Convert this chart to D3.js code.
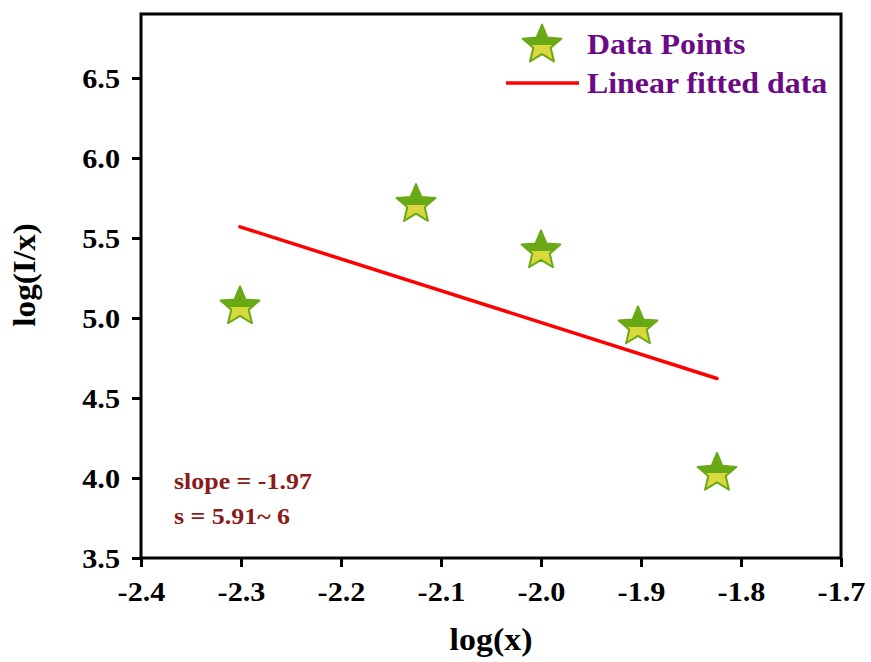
<!DOCTYPE html>
<html>
<head>
<meta charset="utf-8">
<script src="https://cdn.jsdelivr.net/npm/d3@7"></script>
<style>
  body { margin: 0; background: #fff; }
  text { font-family: "Liberation Serif", "Times New Roman", serif; font-weight: bold; }
</style>
</head>
<body>
<svg width="871" height="662"></svg>
<script>
// data
var logX = [-2.301, -2.125, -2.0, -1.903, -1.824];
var logIx = [5.07, 5.71, 5.42, 4.945, 4.03];
var fitX = [-2.301, -1.824];
var fitY = [5.57, 4.622];
var xTicks = [-2.4, -2.3, -2.2, -2.1, -2.0, -1.9, -1.8, -1.7];
var yTicks = [3.5, 4.0, 4.5, 5.0, 5.5, 6.0, 6.5];
var legendLabels = ["Data Points", "Linear fitted data"];
var notes = ["slope = -1.97", "s = 5.91~ 6"];

var svg = d3.select("svg"),
    margin = {top: 14, right: 30, bottom: 104, left: 141},
    width = +svg.attr("width") - margin.left - margin.right,
    height = +svg.attr("height") - margin.top - margin.bottom;

// the original lettering is a little wider than Times
var stretch = 1.12;

var x = d3.scaleLinear().domain([-2.4, -1.7]).range([0, width]);
var y = d3.scaleLinear().domain([3.5, 6.9]).range([height, 0]);

var defs = svg.append("defs");
var grad = defs.append("linearGradient")
    .attr("id", "starFill")
    .attr("x1", 0).attr("y1", 0).attr("x2", 0).attr("y2", 1);
grad.append("stop").attr("offset", "0.56").attr("stop-color", "#6aa916");
grad.append("stop").attr("offset", "0.56").attr("stop-color", "#d9d83c");

var g = svg.append("g")
    .attr("transform", "translate(" + margin.left + "," + margin.top + ")");

// fit line
g.append("line")
    .attr("x1", x(fitX[0])).attr("y1", y(fitY[0]))
    .attr("x2", x(fitX[1])).attr("y2", y(fitY[1]))
    .attr("stroke", "#ff0000")
    .attr("stroke-width", 3.5)
    .attr("stroke-linecap", "round");

// a slightly plumper star than d3.symbolStar
var fatStar = {
  draw: function(context, size) {
    var r = Math.sqrt(size) * 0.86, ri = r * 0.45;
    for (var i = 0; i < 10; i++) {
      var a = -Math.PI / 2 + i * Math.PI / 5, rr = i % 2 ? ri : r;
      if (i === 0) context.moveTo(rr * Math.cos(a), rr * Math.sin(a));
      else context.lineTo(rr * Math.cos(a), rr * Math.sin(a));
    }
    context.closePath();
  }
};
var star = d3.symbol().type(fatStar).size(560);

g.append("g")
  .selectAll("path")
  .data(logX)
  .enter().append("path")
    .attr("d", star)
    .attr("transform", function(d, i) { return "translate(" + x(d) + "," + y(logIx[i]) + ")"; })
    .attr("fill", "url(#starFill)")
    .attr("stroke", "#6aa916")
    .attr("stroke-width", 2)
    .attr("stroke-linejoin", "round");

// frame
g.append("rect")
    .attr("width", width)
    .attr("height", height)
    .attr("fill", "none")
    .attr("stroke", "#000")
    .attr("stroke-width", 3);

var xAxis = g.append("g")
    .attr("transform", "translate(0," + height + ")")
    .call(d3.axisBottom(x).tickValues(xTicks).tickSize(9));

var yAxis = g.append("g")
    .call(d3.axisLeft(y).tickValues(yTicks).tickSize(9));

[xAxis, yAxis].forEach(function(a) {
  a.select(".domain").remove();
  a.selectAll("line").attr("stroke", "#000").attr("stroke-width", 3);
  a.selectAll("text")
      .attr("fill", "#000")
      .attr("x", 0)
      .attr("dy", null)
      .style("font-size", "27px")
      .style("font-family", "Liberation Serif")
      .style("font-weight", "bold")
      .text(function(d) { return d3.format(".1f")(d).replace("\u2212", "-"); });
});
xAxis.selectAll("text")
    .attr("y", 0)
    .attr("transform", "translate(0,43) scale(" + stretch + ",1)");
yAxis.selectAll("text")
    .attr("y", 0)
    .attr("text-anchor", "end")
    .attr("transform", "translate(-21,9.5) scale(" + stretch + ",1)");

// axis titles
svg.append("text")
    .attr("transform", "translate(" + (margin.left + width / 2) + ",650) scale(1.06,1)")
    .attr("text-anchor", "middle")
    .style("font-size", "32px")
    .text("log(x)");

svg.append("text")
    .attr("transform", "translate(35,275) rotate(-90) scale(1.04,1)")
    .attr("text-anchor", "middle")
    .style("font-size", "32px")
    .text("log(I/x)");

// legend
var legend = svg.append("g");
legend.append("path")
    .attr("d", star)
    .attr("transform", "translate(542,45)")
    .attr("fill", "url(#starFill)")
    .attr("stroke", "#6aa916")
    .attr("stroke-width", 2)
    .attr("stroke-linejoin", "round");
legend.append("line")
    .attr("x1", 506).attr("x2", 579)
    .attr("y1", 83).attr("y2", 83)
    .attr("stroke", "#ff0000")
    .attr("stroke-width", 3.5);
legend.selectAll("text.leg")
  .data(legendLabels)
  .enter().append("text")
    .attr("class", "leg")
    .attr("transform", function(d, i) { return "translate(587," + (54 + i * 39) + ") scale(1.1,1)"; })
    .attr("fill", "#6b0a86")
    .style("font-size", "29px")
    .text(function(d) { return d; });

// annotation
svg.selectAll("text.note")
  .data(notes)
  .enter().append("text")
    .attr("class", "note")
    .attr("transform", function(d, i) { return "translate(174," + (489 + i * 35) + ") scale(1.08,1)"; })
    .attr("fill", "#8b1a1a")
    .style("font-size", "24px")
    .text(function(d) { return d; });
</script>
</body>
</html>
